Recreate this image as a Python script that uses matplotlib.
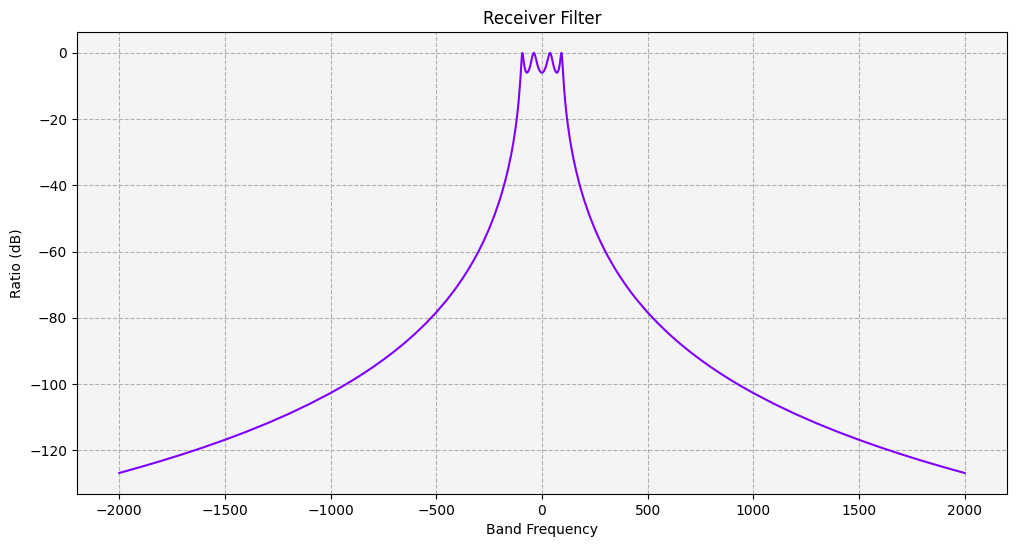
import matplotlib
matplotlib.use("Agg")
import matplotlib.pyplot as plt

# Frequency (Hz) and response (dB)
freq = [-2000, -1900, -1800, -1700, -1600, -1500, -1400, -1300, -1200, -1100, -1000,
        -950, -900, -850, -800, -750, -700, -650, -600, -550, -500, -450, -425, -400,
        -375, -350, -325, -300, -275, -250, -225, -200, -185, -175, -170, -160, -150,
        -145, -140, -135, -130, -125, -120, -115, -110, -105, -102.5, -101, -100,
        -97.5, -95, -92.5, -90, -85, -80, -75, -70, -65, -60, -55, -50, -45,
        -40, -38.3, -35, -30, -25, -20, -15, -10, -5, 0,
        5, 10, 15, 20, 25, 30, 35, 38.3, 40, 45, 50, 55, 60, 65, 70, 75, 80, 85, 90, 92.5,
        95, 97.5, 100, 101, 102.5, 105, 110, 115, 120, 125, 130, 135, 140, 145, 150, 160,
        170, 175, 185, 200, 225, 250, 275, 300, 325, 350, 375, 400, 425, 450, 500, 550,
        600, 650, 700, 750, 800, 850, 900, 950, 1000, 1100, 1200, 1300, 1400, 1500, 1600,
        1700, 1800, 1900, 2000]
ratio_db = [-126.87, -125.08, -123.20, -121.21, -119.10, -116.85, -114.45, -111.87, -109.08,
            -106.04, -102.72, -100.93, -99.04, -97.04, -94.92, -92.65, -90.23, -87.63,
            -84.81, -81.74, -78.37, -74.63, -72.59, -70.41, -68.09, -65.60, -62.90, -59.97,
            -56.74, -53.16, -49.12, -44.48, -41.31, -38.99, -37.75, -35.10, -32.17, -30.57,
            -28.86, -27.03, -25.04, -22.86, -20.44, -17.71, -14.54, -10.72, -8.49, -7.02,
            -6.00,
            -3.35, -1.01, -0.00, -0.64, -3.20, -4.94, -5.80, -6.00, -5.68, -4.94, -3.82,
            -2.42, -0.98, -0.07, 0.00, -0.25, -1.32, -2.65, -3.86, -4.81, -5.48, -5.87, -6.00,
            -5.87, -5.48, -4.81, -3.86, -2.65, -1.32, -0.25, 0.00, -0.07, -0.98, -2.42, -3.82,
            -4.94, -5.68, -6.00, -5.80, -4.94, -3.20, -0.64, -0.00, -1.01, -3.35, -6.00,
            -7.02, -8.49, -10.72, -14.54, -17.71, -20.44, -22.86, -25.04, -27.03, -28.86,
            -30.57, -32.17, -35.10, -37.75, -38.99, -41.31, -44.48, -49.12, -53.16, -56.74,
            -59.97, -62.90, -65.60, -68.09, -70.41, -72.59, -74.63, -78.37, -81.74, -84.81,
            -87.63, -90.23, -92.65, -94.92, -97.04, -99.04, -100.93, -102.72, -106.04,
            -109.08, -111.87, -114.45, -116.85, -119.10, -121.21, -123.20, -125.08, -126.87]

fig, ax = plt.subplots(figsize=(10.17, 5.47), dpi=100)
fig.subplots_adjust(left=0.0757, right=0.990, top=0.9415, bottom=0.097)
ax.set_facecolor("#f4f4f4")
ax.plot(freq, ratio_db, color="#8000ff", linewidth=1.5)
ax.set_title("Receiver Filter")
ax.set_xlabel("Band Frequency")
ax.set_ylabel("Ratio (dB)")
ax.set_xlim(-2200, 2200)
ax.set_ylim(-133.2, 6.3)
ax.set_xticks([-2000, -1500, -1000, -500, 0, 500, 1000, 1500, 2000])
ax.set_yticks([0, -20, -40, -60, -80, -100, -120])
ax.grid(True, linestyle="--", color="#b0b0b0", linewidth=0.8)
ax.set_axisbelow(True)
fig.savefig("out.png", dpi=100)
